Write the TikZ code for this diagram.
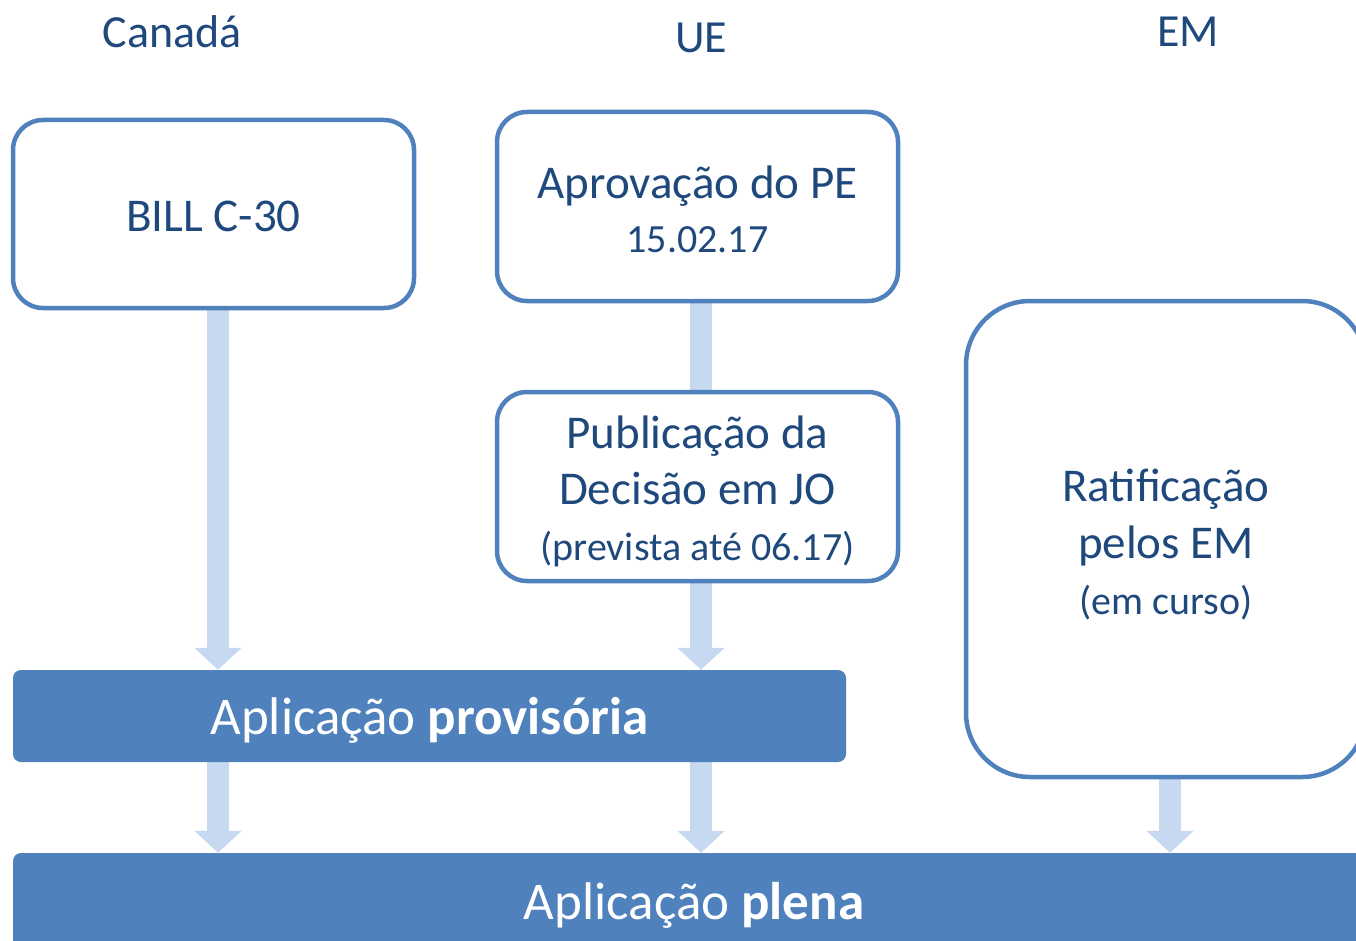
\documentclass[tikz,border=0pt]{standalone}
\usepackage{fontspec}
\setmainfont{Carlito}
\usetikzlibrary{arrows.meta,backgrounds}
\definecolor{txtblue}{HTML}{1F497D}
\definecolor{boxblue}{HTML}{4F81BD}
\definecolor{arrowblue}{HTML}{C6D9F1}
\tikzset{
  stagebox/.style={draw=boxblue, line width=4.5pt, fill=white, rounded corners=30pt,
    inner sep=0pt},
  bigbox/.style={stagebox, rounded corners=64pt},
  stagetext/.style={text=txtblue, align=center, inner sep=0pt,
    font=\fontsize{47}{56}\selectfont},
  barbox/.style={fill=boxblue, rounded corners=8pt, inner sep=0pt},
  bartext/.style={text=white, inner sep=0pt, font=\fontsize{53}{60}\selectfont},
  headlabel/.style={text=txtblue, font=\fontsize{46}{54}\selectfont, inner sep=0pt},
  flowarrow/.style={draw=arrowblue, line width=22pt,
    -{Triangle[width=46pt,length=22pt]}},
  flowshaft/.style={draw=arrowblue, line width=22pt}
}
\newcommand{\smalltxt}{\fontsize{40}{56}\selectfont}
\begin{document}
\begin{tikzpicture}[x=1pt,y=-1pt]
\useasboundingbox (0,0) rectangle (1356,941);
\clip (0,0) rectangle (1356,941);
% titles
\node[headlabel] (tca) at (172,32) {Canadá};
\node[headlabel] (tue) at (701,38) {UE};
\node[headlabel] (tem) at (1188,32) {EM};
% boxes
\node[stagebox, minimum width=401pt, minimum height=188pt] (bill) at (213.5,214) {};
\node[stagebox, minimum width=401pt, minimum height=189pt] (apr) at (697.5,206.5) {};
\node[stagebox, minimum width=401pt, minimum height=189pt] (pub) at (697.5,486.5) {};
\node[bigbox, minimum width=400pt, minimum height=476pt] (rat) at (1166,539) {};
\node[barbox, minimum width=833pt, minimum height=92pt] (prov) at (429.5,716) {};
\node[barbox, minimum width=1362pt, minimum height=98pt] (plena) at (694,902) {};
% texts
\node[stagetext] (billtxt) at ([yshift=-2pt]bill.center) {BILL C-30};
\node[stagetext] (aprtxt) at ([yshift=-3pt]apr.center)
  {Aprovação do PE\\[-2pt]{\smalltxt 15.02.17}};
\node[stagetext] (pubtxt) at ([yshift=-5pt]pub.center)
  {Publicação da\\Decisão em JO\\{\smalltxt (prevista até 06.17)}};
\node[stagetext, font=\fontsize{47}{57}\selectfont] (rattxt) at ([yshift=-6pt]rat.center)
  {Ratificação\\pelos EM\\[-1pt]{\smalltxt (em curso)}};
\node[bartext] (provtxt) at ([yshift=-4pt]prov.center) {Aplicação \textbf{provisória}};
\node[bartext] (plenatxt) at ([yshift=-3pt]plena.center) {Aplicação \textbf{plena}};
% arrow x positions
\coordinate (xca) at (218,0);
\coordinate (xue) at (701,0);
\coordinate (xem) at (1170,0);
\begin{scope}[on background layer]
\draw[flowarrow] (bill.south -| xca) -- (prov.north -| xca);
\draw[flowshaft] (apr.south -| xue) -- (pub.north -| xue);
\draw[flowarrow] (pub.south -| xue) -- (prov.north -| xue);
\draw[flowarrow] (prov.south -| xca) -- (plena.north -| xca);
\draw[flowarrow] (prov.south -| xue) -- (plena.north -| xue);
\draw[flowarrow] (rat.south -| xem) -- (plena.north -| xem);
\end{scope}
\end{tikzpicture}
\end{document}
